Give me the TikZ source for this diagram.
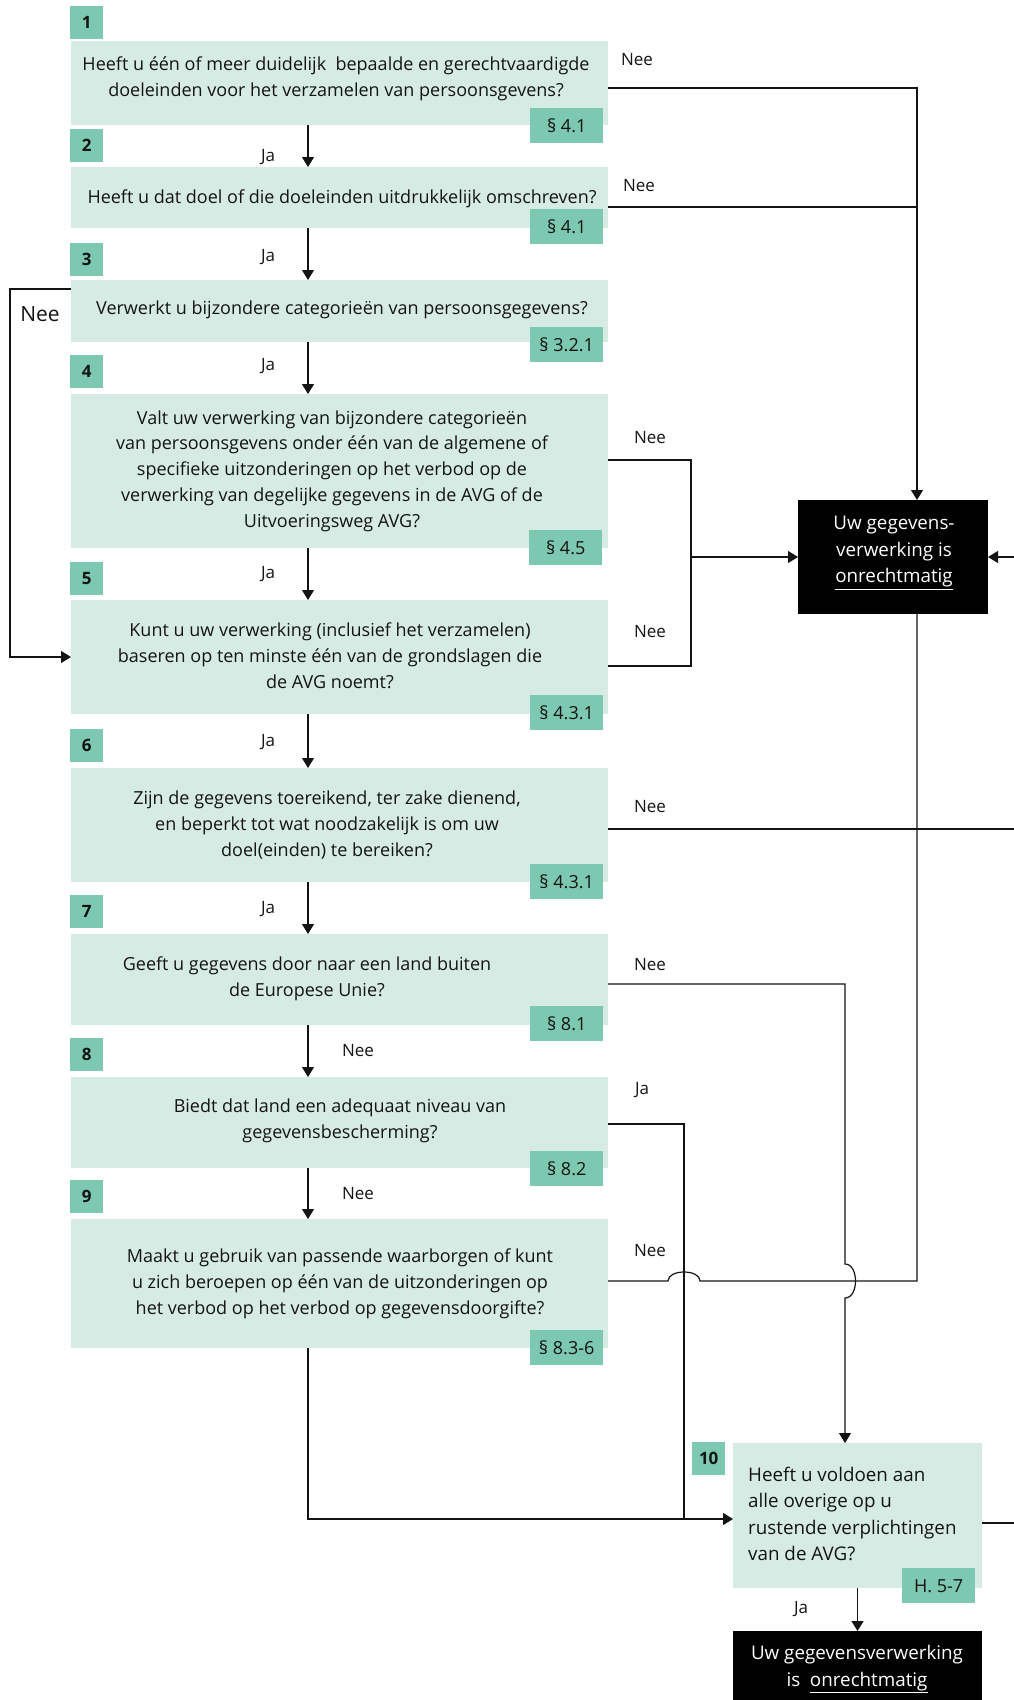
\documentclass[tikz,border=0pt]{standalone}
\usepackage{fontspec}
\setmainfont{Open Sans}
\usetikzlibrary{arrows.meta}
\definecolor{boxfill}{RGB}{215,235,229}
\definecolor{tagfill}{RGB}{125,200,176}
\definecolor{ink}{RGB}{20,20,20}
\tikzset{
  qbox/.style={fill=boxfill, inner sep=0pt, outer sep=0pt, anchor=north west},
  blackbox/.style={fill=black, inner sep=0pt, outer sep=0pt, anchor=north west},
  qtext/.style={align=center, inner sep=0pt, text=ink, font=\fontsize{18}{25.8}\selectfont},
  ltext/.style={align=left, inner sep=0pt, text=ink, font=\fontsize{18.8}{26.5}\selectfont},
  wtext/.style={align=center, inner sep=0pt, text=white, font=\fontsize{18.8}{26.5}\selectfont},
  tagbox/.style={fill=tagfill, minimum width=73pt, minimum height=35pt, inner sep=0pt, anchor=north west, text=ink, font=\fontsize{18}{20}\selectfont},
  numbox/.style={fill=tagfill, minimum width=33pt, minimum height=33pt, inner sep=0pt, anchor=north west, text=ink, font=\fontsize{17}{20}\selectfont\bfseries},
  lbl/.style={inner sep=0pt, text=ink, font=\fontsize{17}{20}\selectfont},
  conn/.style={line width=1.2pt, draw=ink},
  arr/.style={conn, -{Triangle[length=10pt,width=12pt]}}
}
\begin{document}
\begin{tikzpicture}[x=1pt,y=-1pt]
\useasboundingbox (0,0) rectangle (1014,1700);
% question boxes
\node[qbox, minimum width=537pt, minimum height=84pt]  (b1)  at (71,41) {};
\node[qbox, minimum width=537pt, minimum height=61pt]  (b2)  at (71,167) {};
\node[qbox, minimum width=537pt, minimum height=62pt]  (b3)  at (71,280) {};
\node[qbox, minimum width=537pt, minimum height=154pt] (b4)  at (71,394) {};
\node[qbox, minimum width=537pt, minimum height=114pt] (b5)  at (71,600) {};
\node[qbox, minimum width=537pt, minimum height=114pt] (b6)  at (71,768) {};
\node[qbox, minimum width=537pt, minimum height=91pt]  (b7)  at (71,934) {};
\node[qbox, minimum width=537pt, minimum height=91pt]  (b8)  at (71,1077) {};
\node[qbox, minimum width=537pt, minimum height=129pt] (b9)  at (71,1219) {};
\node[qbox, minimum width=249pt, minimum height=145pt] (b10) at (733,1443) {};
\node[blackbox, minimum width=190pt, minimum height=114pt] (bk1) at (798,500) {};
\node[blackbox, minimum width=249pt, minimum height=69pt]  (bk2) at (733,1631) {};
% texts
\node[qtext] (t1) at (336,79) {Heeft u één of meer duidelijk\ \ bepaalde en gerechtvaardigde\\doeleinden voor het verzamelen van persoonsgevens?};
\node[qtext] (t2) at (342,199) {Heeft u dat doel of die doeleinden uitdrukkelijk omschreven?};
\node[qtext] (t3) at (342,310) {Verwerkt u bijzondere categorieën van persoonsgegevens?};
\node[qtext] (t4) at (332,471) {Valt uw verwerking van bijzondere categorieën\\van persoonsgevens onder één van de algemene of\\specifieke uitzonderingen op het verbod op de\\verwerking van degelijke gegevens in de AVG of de\\Uitvoeringsweg AVG?};
\node[qtext] (t5) at (330,656) {Kunt u uw verwerking (inclusief het verzamelen)\\baseren op ten minste één van de grondslagen die\\de AVG noemt?};
\node[qtext] (t6) at (327,825) {Zijn de gegevens toereikend, ter zake dienend,\\en beperkt tot wat noodzakelijk is om uw\\doel(einden) te bereiken?};
\node[qtext] (t7) at (307,979) {Geeft u gegevens door naar een land buiten\\de Europese Unie?};
\node[qtext] (t8) at (340,1121) {Biedt dat land een adequaat niveau van\\gegevensbescherming?};
\node[qtext] (t9) at (340,1284) {Maakt u gebruik van passende waarborgen of kunt\\u zich beroepen op één van de uitzonderingen op\\het verbod op het verbod op gegevensdoorgifte?};
\node[ltext, anchor=west] (t10) at (748,1514) {Heeft u voldoen aan\\alle overige op u\\rustende verplichtingen\\van de AVG?};
\node[wtext] (tk1) at (894,553) {Uw gegevens-\\verwerking is\\\underline{onrechtmatig}};
\node[wtext] (tk2) at (857,1669) {Uw gegevensverwerking\\is\ \ \underline{onrechtmatig}};
% reference tags
\node[tagbox] (g1)  at (530,108)  {§ 4.1};
\node[tagbox] (g2)  at (530,209)  {§ 4.1};
\node[tagbox] (g3)  at (530,327)  {§ 3.2.1};
\node[tagbox] (g4)  at (529,530)  {§ 4.5};
\node[tagbox] (g5)  at (530,695)  {§ 4.3.1};
\node[tagbox] (g6)  at (530,864)  {§ 4.3.1};
\node[tagbox] (g7)  at (530,1006) {§ 8.1};
\node[tagbox] (g8)  at (530,1151) {§ 8.2};
\node[tagbox] (g9)  at (530,1330) {§ 8.3-6};
\node[tagbox] (g10) at (902,1568) {H. 5-7};
% number boxes
\node[numbox] (n1)  at (70,6)    {1};
\node[numbox] (n2)  at (70,129)  {2};
\node[numbox] (n3)  at (70,243)  {3};
\node[numbox] (n4)  at (70,355)  {4};
\node[numbox] (n5)  at (70,562)  {5};
\node[numbox] (n6)  at (70,729)  {6};
\node[numbox] (n7)  at (70,895)  {7};
\node[numbox] (n8)  at (70,1038) {8};
\node[numbox] (n9)  at (70,1180) {9};
\node[numbox] (n10) at (692,1442) {10};
% helper coordinates
\coordinate (col) at (308,0);
\coordinate (rc) at (917,0);
\coordinate (lc) at (10,0);
\coordinate (mc) at (691,0);
\coordinate (jc) at (684,0);
\coordinate (kc) at (845,0);
\coordinate (edge) at (1014,0);
% main column arrows
\draw[arr] (b1.south -| col) -- (b2.north -| col);
\draw[arr] (b2.south -| col) -- (b3.north -| col);
\draw[arr] (b3.south -| col) -- (b4.north -| col);
\draw[arr] (b4.south -| col) -- (b5.north -| col);
\draw[arr] (b5.south -| col) -- (b6.north -| col);
\draw[arr] (b6.south -| col) -- (b7.north -| col);
\draw[arr] (b7.south -| col) -- (b8.north -| col);
\draw[arr] (b8.south -| col) -- (b9.north -| col);
\draw[arr] (b10.south) -- (bk2.north);
% Nee from 1 and 2
\draw[arr] ([yshift=-5pt]b1.east) -- ([yshift=-5pt]b1.east -| rc) -- (bk1.north -| rc);
\draw[conn] ([yshift=-9.5pt]b2.east) -- ([yshift=-9.5pt]b2.east -| rc);
% Nee from 3 (left loop)
\draw[arr] ([yshift=22pt]b3.west) -- ([yshift=22pt]b3.west -| lc) -- (b5.west -| lc) -- (b5.west);
% Nee from 4 and 5
\draw[conn] ([yshift=11pt]b4.east) -- ([yshift=11pt]b4.east -| mc) -- ([yshift=-9pt]b5.east -| mc) -- ([yshift=-9pt]b5.east);
\draw[arr] (bk1.west -| mc) -- (bk1.west);
\draw[arr] (bk1.east -| edge) -- (bk1.east);
% Nee from 6
\draw[conn] ([yshift=-4pt]b6.east) -- ([yshift=-4pt]b6.east -| edge);
% Nee from 7 to 10 (jumps over line from 9)
\draw[arr] ([yshift=-4.5pt]b7.east) -- ([yshift=-4.5pt]b7.east -| kc) -- (845,1264)
  .. controls (859,1264) and (859,1298) .. (845,1298) -- (b10.north -| kc);
% Ja from 8
\draw[conn] ([yshift=-1.5pt]b8.east) -- ([yshift=-1.5pt]b8.east -| jc) -- (684,1519);
% Nee from 9 to black box (jumps over line from 8)
\draw[conn] ([yshift=2.5pt]b9.east) -- (668,1281)
  .. controls (668,1269) and (700,1269) .. (700,1281) -- (917,1281) -- (bk1.south -| rc);
% Ja from 9 to 10
\draw[arr] (b9.south -| col) -- (308,1519) -- ([yshift=-3.5pt]b10.west);
% from 10 to the right edge
\draw[conn] ([yshift=-7.5pt]b10.east) -- ([yshift=-7.5pt]b10.east -| edge);
% labels
\node[lbl] (l12) at (268,157) {Ja};
\node[lbl] (l23) at (268,257) {Ja};
\node[lbl] (l34) at (268,366) {Ja};
\node[lbl] (l45) at (268,574) {Ja};
\node[lbl] (l56) at (268,742) {Ja};
\node[lbl] (l67) at (268,909) {Ja};
\node[lbl] (l78) at (358,1051) {Nee};
\node[lbl] (l89) at (358,1193) {Nee};
\node[lbl] (l10) at (801,1609) {Ja};
\node[lbl] (r1) at (637,60) {Nee};
\node[lbl] (r2) at (639,186) {Nee};
\node[lbl] (r4) at (650,438) {Nee};
\node[lbl] (r5) at (650,632) {Nee};
\node[lbl] (r6) at (650,807) {Nee};
\node[lbl] (r7) at (650,965) {Nee};
\node[lbl] (r8) at (642,1090) {Ja};
\node[lbl] (r9) at (650,1250) {Nee};
\node[lbl, font=\fontsize{21}{24}\selectfont] (l3) at (40,314) {Nee};
\end{tikzpicture}
\end{document}
